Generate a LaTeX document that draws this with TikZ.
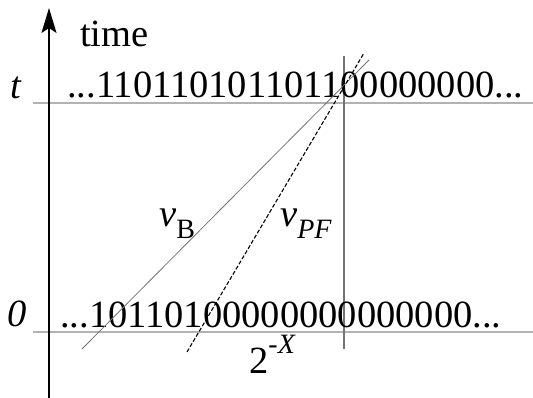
\documentclass[tikz,border=0pt]{standalone}
\usepackage{fontspec}
\setmainfont{Liberation Serif}
\usetikzlibrary{arrows.meta}
\begin{document}
\begin{tikzpicture}[x=1pt,y=-1pt,
  lbl/.style={inner sep=0pt,font=\fontsize{38.5}{41}\selectfont},
  axisline/.style={line width=1.5pt,-{Stealth[length=25pt,width=15pt,inset=5pt]}},
  gridline/.style={line width=1.3pt,black!30},
  markline/.style={line width=1.3pt,black!55},
  bline/.style={line width=0.8pt,black!55},
  pfline/.style={line width=1.1pt,black,dash pattern=on 4pt off 2pt}]
\useasboundingbox (0,0) rectangle (533,398);
% coordinates
\coordinate (axb) at (49,398);
\coordinate (axt) at (49,8);
\coordinate (tl) at (33,103);
\coordinate (tr) at (533,103);
\coordinate (zl) at (33,332);
\coordinate (zr) at (533,332);
\coordinate (vt) at (344,56);
\coordinate (vb) at (344,349);
\coordinate (b1) at (82,349);
\coordinate (b2) at (369,60);
\coordinate (p1) at (187,352);
\coordinate (p2) at (364,53);
% lines
\draw[gridline] (tl) -- (tr);
\draw[gridline] (zl) -- (zr);
\draw[markline] (vt) -- (vb);
\draw[axisline] (axb) -- (axt);
% texts
\node[lbl,anchor=base west] (time) at (80,47) {time};
\node[lbl,anchor=base west] (tlab) at (10,99) {\itshape t};
\node[lbl,anchor=base west] (zlab) at (7,326) {\itshape 0};
\node[lbl,anchor=base west] (top) at (67,98) {...110110101101100000000...};
\node[lbl,anchor=base west] (bot) at (60,327) {...10110100000000000000...};
\node[lbl,anchor=base west] (vB) at (159,227) {\itshape v\normalfont\raisebox{-0.3em}{\fontsize{28}{30}\selectfont B}};
\node[lbl,anchor=base west] (vPF) at (280,227) {\itshape v\raisebox{-0.3em}{\fontsize{28}{30}\selectfont PF}};
\node[lbl,anchor=base west] (twox) at (249,373) {2\raisebox{0.5em}{\fontsize{28}{30}\selectfont -\itshape X}};
% slope lines
\draw[bline] (b1) -- (b2);
\draw[pfline] (p1) -- (p2);
\end{tikzpicture}
\end{document}
